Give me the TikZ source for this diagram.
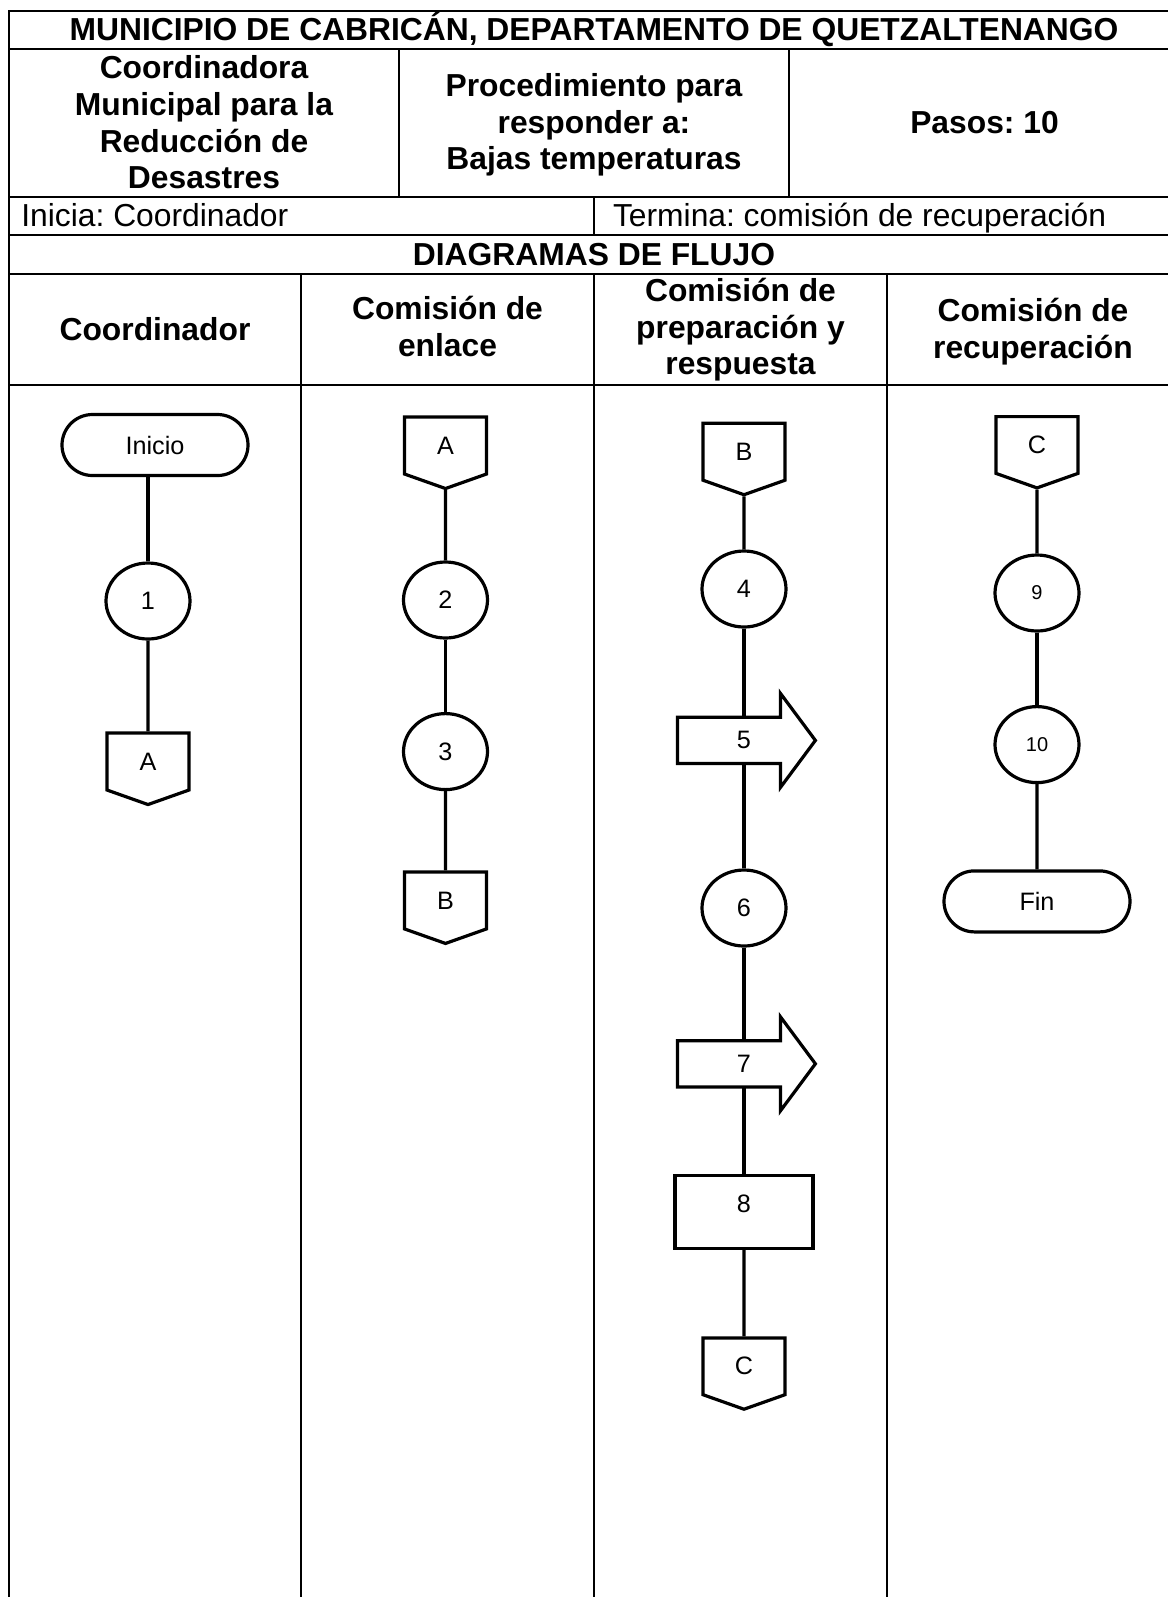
\documentclass[tikz,border=0pt]{standalone}
\usepackage{fontspec}
\setmainfont{Liberation Sans}
\usetikzlibrary{calc,shapes.geometric,shapes.misc,shapes.symbols}
\frenchspacing

\tikzset{
  tabla/.style={line width=1pt},
  titulo/.style={font=\fontsize{15.9}{18.3}\selectfont\bfseries, align=center, inner sep=0pt},
  texto/.style={font=\fontsize{15.9}{18.3}\selectfont, inner sep=0pt},
  forma/.style={draw, line width=1.6pt, font=\fontsize{12.6}{15}\selectfont, inner sep=0pt},
  terminal/.style={forma, rounded rectangle, minimum width=93pt, minimum height=30.5pt},
  paso/.style={forma, ellipse, minimum width=42pt, minimum height=38pt},
  chico/.style={font=\fontsize{10}{12}\selectfont},
  conector/.style={forma, signal, signal to=south, signal pointer angle=141,
    minimum width=41pt, minimum height=30pt},
  proceso/.style={forma, rectangle, minimum width=69pt, minimum height=36.5pt, text depth=8pt},
  salida/.style={forma, draw=none, minimum width=65pt, minimum height=21.5pt},
  flujo/.style={line width=1.6pt},
}
% contorno de flecha de salida alrededor de un nodo
\newcommand{\flecha}[1]{%
  \draw[flujo] (#1.north west) -- ++(51.5pt,0) -- ++(0,12pt) -- ($(#1.west)+(69pt,0)$)
    -- ($(#1.south west)+(51.5pt,-12pt)$) -- ++(0,12pt) -- (#1.south west) -- cycle;}

\begin{document}
\begin{tikzpicture}[x=0.5pt, y=-0.5pt]
    \useasboundingbox (0,0) rectangle (1168,1597);
    \clip (0,0) rectangle (1168,1597);
    % Tabla
    \draw[tabla] (9,1597) -- (9,10.5) -- (1179,10.5) -- (1179,1597);
    \draw[tabla] (9,49) -- (1179,49);
    \draw[tabla] (9,196.7) -- (1179,196.7);
    \draw[tabla] (9,235) -- (1179,235);
    \draw[tabla] (9,274) -- (1179,274);
    \draw[tabla] (9,385) -- (1179,385);
    \draw[tabla] (399,49) -- (399,196.7);
    \draw[tabla] (789,49) -- (789,196.7);
    \draw[tabla] (594,196.7) -- (594,235);
    % Carriles
    \draw[tabla] (301,274) -- (301,1597);
    \draw[tabla] (594,274) -- (594,1597);
    \draw[tabla] (887,274) -- (887,1597);
    % Encabezado
    \node[titulo, anchor=base] (municipio) at (594,40)
    {MUNICIPIO DE CABRICÁN, DEPARTAMENTO DE QUETZALTENANGO};
    \node[titulo] (coordinadora) at (204,122.5)
    {Coordinadora\\Municipal para la\\Reducción de\\Desastres};
    \node[titulo] (procedimiento) at (594,125)
    {Procedimiento para\\responder a:\\Bajas temperaturas};
    \node[titulo, anchor=base] (pasos) at (984.5,133.3) {Pasos: 10};
    \node[texto, anchor=base west] (inicia) at (21,226.7) {Inicia: Coordinador};
    \node[texto, anchor=base west] (termina) at (612.6,226.7)
    {Termina: comisión de recuperación};
    \node[titulo, anchor=base] (diagramas) at (594,265) {DIAGRAMAS DE FLUJO};
    % Responsables
    \node[titulo, anchor=base] (coordinador) at (155,340.7) {Coordinador};
    \node[titulo] (enlace) at (447.5,326.7) {Comisión de\\enlace};
    \node[titulo] (preparacion) at (740.5,330) {Comisión de\\preparación y\\respuesta};
    \node[titulo] (recuperacion) at (1033,331.7) {Comisión de\\recuperación};
    % Coordinador
    \node[terminal] (inicio) at (155,445) {Inicio};
    \node[paso] (p1) at (148,601) {1};
    \node[conector] (conA1) at (148,761.5) {A};
    % Comision de enlace
    \node[conector] (conA2) at (445.5,445.5) {A};
    \node[paso] (p2) at (445.5,600) {2};
    \node[paso] (p3) at (445.5,751.6) {3};
    \node[conector] (conB2) at (445.5,900.4) {B};
    % Comision de preparacion y respuesta
    \node[conector] (conB3) at (744,451.7) {B};
    \node[paso] (p4) at (744,589) {4};
    \node[salida] (p5) at (744,740.4) {5};
    \node[paso] (p6) at (744,908) {6};
    \node[salida] (p7) at (744,1063.8) {7};
    \node[proceso] (p8) at (744,1212) {8};
    \node[conector] (conC3) at (744,1366.3) {C};
    \flecha{p5}
    \flecha{p7}
    % Comision de recuperacion
    \node[conector] (conC4) at (1037,445) {C};
    \node[paso, chico] (p9) at (1037,593) {9};
    \node[paso, chico] (p10) at (1037,744.6) {10};
    \node[terminal] (fin) at (1037,901.4) {Fin};
    % Flujo
    \draw[flujo] (inicio.south -| p1) -- (p1);
    \draw[flujo] (p1) -- (conA1);
    \draw[flujo] (conA2) -- (p2);
    \draw[flujo] (p2) -- (p3);
    \draw[flujo] (p3) -- (conB2);
    \draw[flujo] (conB3) -- (p4);
    \draw[flujo] (p4) -- (p5);
    \draw[flujo] (p5) -- (p6);
    \draw[flujo] (p6) -- (p7);
    \draw[flujo] (p7) -- (p8);
    \draw[flujo] (p8) -- (conC3);
    \draw[flujo] (conC4) -- (p9);
    \draw[flujo] (p9) -- (p10);
    \draw[flujo] (p10) -- (fin);
\end{tikzpicture}
\end{document}
